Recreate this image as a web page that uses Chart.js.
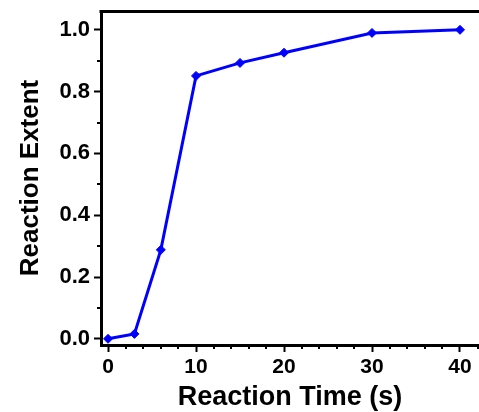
<!DOCTYPE html>
<html>
<head>
<meta charset="utf-8">
<script src="https://cdn.jsdelivr.net/npm/chart.js@4/dist/chart.umd.min.js"></script>
<style>
  html, body { margin: 0; padding: 0; background: #fff; overflow: hidden; }
  #wrap { width: 479px; height: 412px; }
</style>
</head>
<body>
<div id="wrap"><canvas id="extentChart"></canvas></div>
<script>
const reactionTimes = [0, 3, 6, 10, 15, 20, 30, 40];
const reactionExtent = [0.0, 0.016, 0.288, 0.851, 0.893, 0.926, 0.99, 1.0];

const xMajorTicks = [0, 10, 20, 30, 40];
const xMinorTicks = [2, 4, 6, 8, 12, 14, 16, 18, 22, 24, 26, 28, 32, 34, 36, 38, 42];
const yMajorTicks = [0.0, 0.2, 0.4, 0.6, 0.8, 1.0];
const yMinorTicks = [0.1, 0.3, 0.5, 0.7, 0.9];

const fontFamily = "'Liberation Sans', Arial, sans-serif";

// small ticks between the labelled ones, plus the top frame line
const framePlugin = {
  id: "frame",
  afterDraw(chart) {
    const { ctx, chartArea, scales } = chart;
    ctx.save();
    ctx.strokeStyle = "#000";
    ctx.lineWidth = 2;
    yMinorTicks.forEach(v => {
      const y = Math.round(scales.y.getPixelForValue(v));
      ctx.beginPath();
      ctx.moveTo(chartArea.left - 4, y);
      ctx.lineTo(chartArea.left, y);
      ctx.stroke();
    });
    xMinorTicks.forEach(v => {
      const x = Math.round(scales.x.getPixelForValue(v));
      ctx.beginPath();
      ctx.moveTo(x, chartArea.bottom);
      ctx.lineTo(x, chartArea.bottom + 4);
      ctx.stroke();
    });
    ctx.lineWidth = 3;
    ctx.beginPath();
    ctx.moveTo(chartArea.left - 1.5, chartArea.top + 0.5);
    ctx.lineTo(chartArea.right + 2, chartArea.top + 0.5);
    ctx.stroke();
    ctx.restore();
  }
};

const ctx = document.getElementById("extentChart").getContext("2d");
new Chart(ctx, {
  type: "line",
  data: {
    datasets: [{
      data: reactionTimes.map((t, i) => ({ x: t, y: reactionExtent[i] })),
      borderColor: "#0000ff",
      backgroundColor: "#0000ff",
      borderWidth: 3,
      pointStyle: "rectRot",
      pointRadius: 4.5,
      pointBorderWidth: 1,
      tension: 0,
      clip: false
    }]
  },
  plugins: [framePlugin],
  options: {
    responsive: true,
    maintainAspectRatio: false,
    animation: false,
    layout: { autoPadding: false, padding: { top: 11, left: 0, right: 0, bottom: 0 } },
    plugins: { legend: { display: false }, tooltip: { enabled: false } },
    scales: {
      x: {
        type: "linear",
        min: -0.8,
        max: 42.16,
        afterBuildTicks: s => { s.ticks = xMajorTicks.map(v => ({ value: v })); },
        afterFit: s => { s.height = 67; s.paddingLeft = 0; s.paddingRight = 0; },
        grid: { drawOnChartArea: false, drawTicks: true, tickLength: 7, tickWidth: 2, tickColor: "#000" },
        border: { display: true, width: 3, color: "#000" },
        ticks: {
          color: "#000",
          padding: 3,
          maxRotation: 0,
          font: { family: fontFamily, size: 21, weight: "bold" },
          callback: v => String(v)
        },
        title: {
          display: true,
          text: "Reaction Time (s)",
          color: "#000",
          padding: { top: 0, bottom: -2 },
          font: { family: fontFamily, size: 27, weight: "bold" }
        }
      },
      y: {
        type: "linear",
        min: -0.02,
        max: 1.061,
        afterBuildTicks: s => { s.ticks = yMajorTicks.map(v => ({ value: v })); },
        afterFit: s => { s.width = 101; s.paddingTop = 0; s.paddingBottom = 0; },
        grid: { drawOnChartArea: false, drawTicks: true, tickLength: 7, tickWidth: 2, tickColor: "#000" },
        border: { display: true, width: 3, color: "#000" },
        ticks: {
          color: "#000",
          padding: 4,
          font: { family: fontFamily, size: 22, weight: "bold" },
          callback: v => v.toFixed(1)
        },
        title: {
          display: true,
          text: "Reaction Extent",
          color: "#000",
          padding: { top: 15, bottom: 0 },
          font: { family: fontFamily, size: 26, weight: "bold" }
        }
      }
    }
  }
});
</script>
</body>
</html>
